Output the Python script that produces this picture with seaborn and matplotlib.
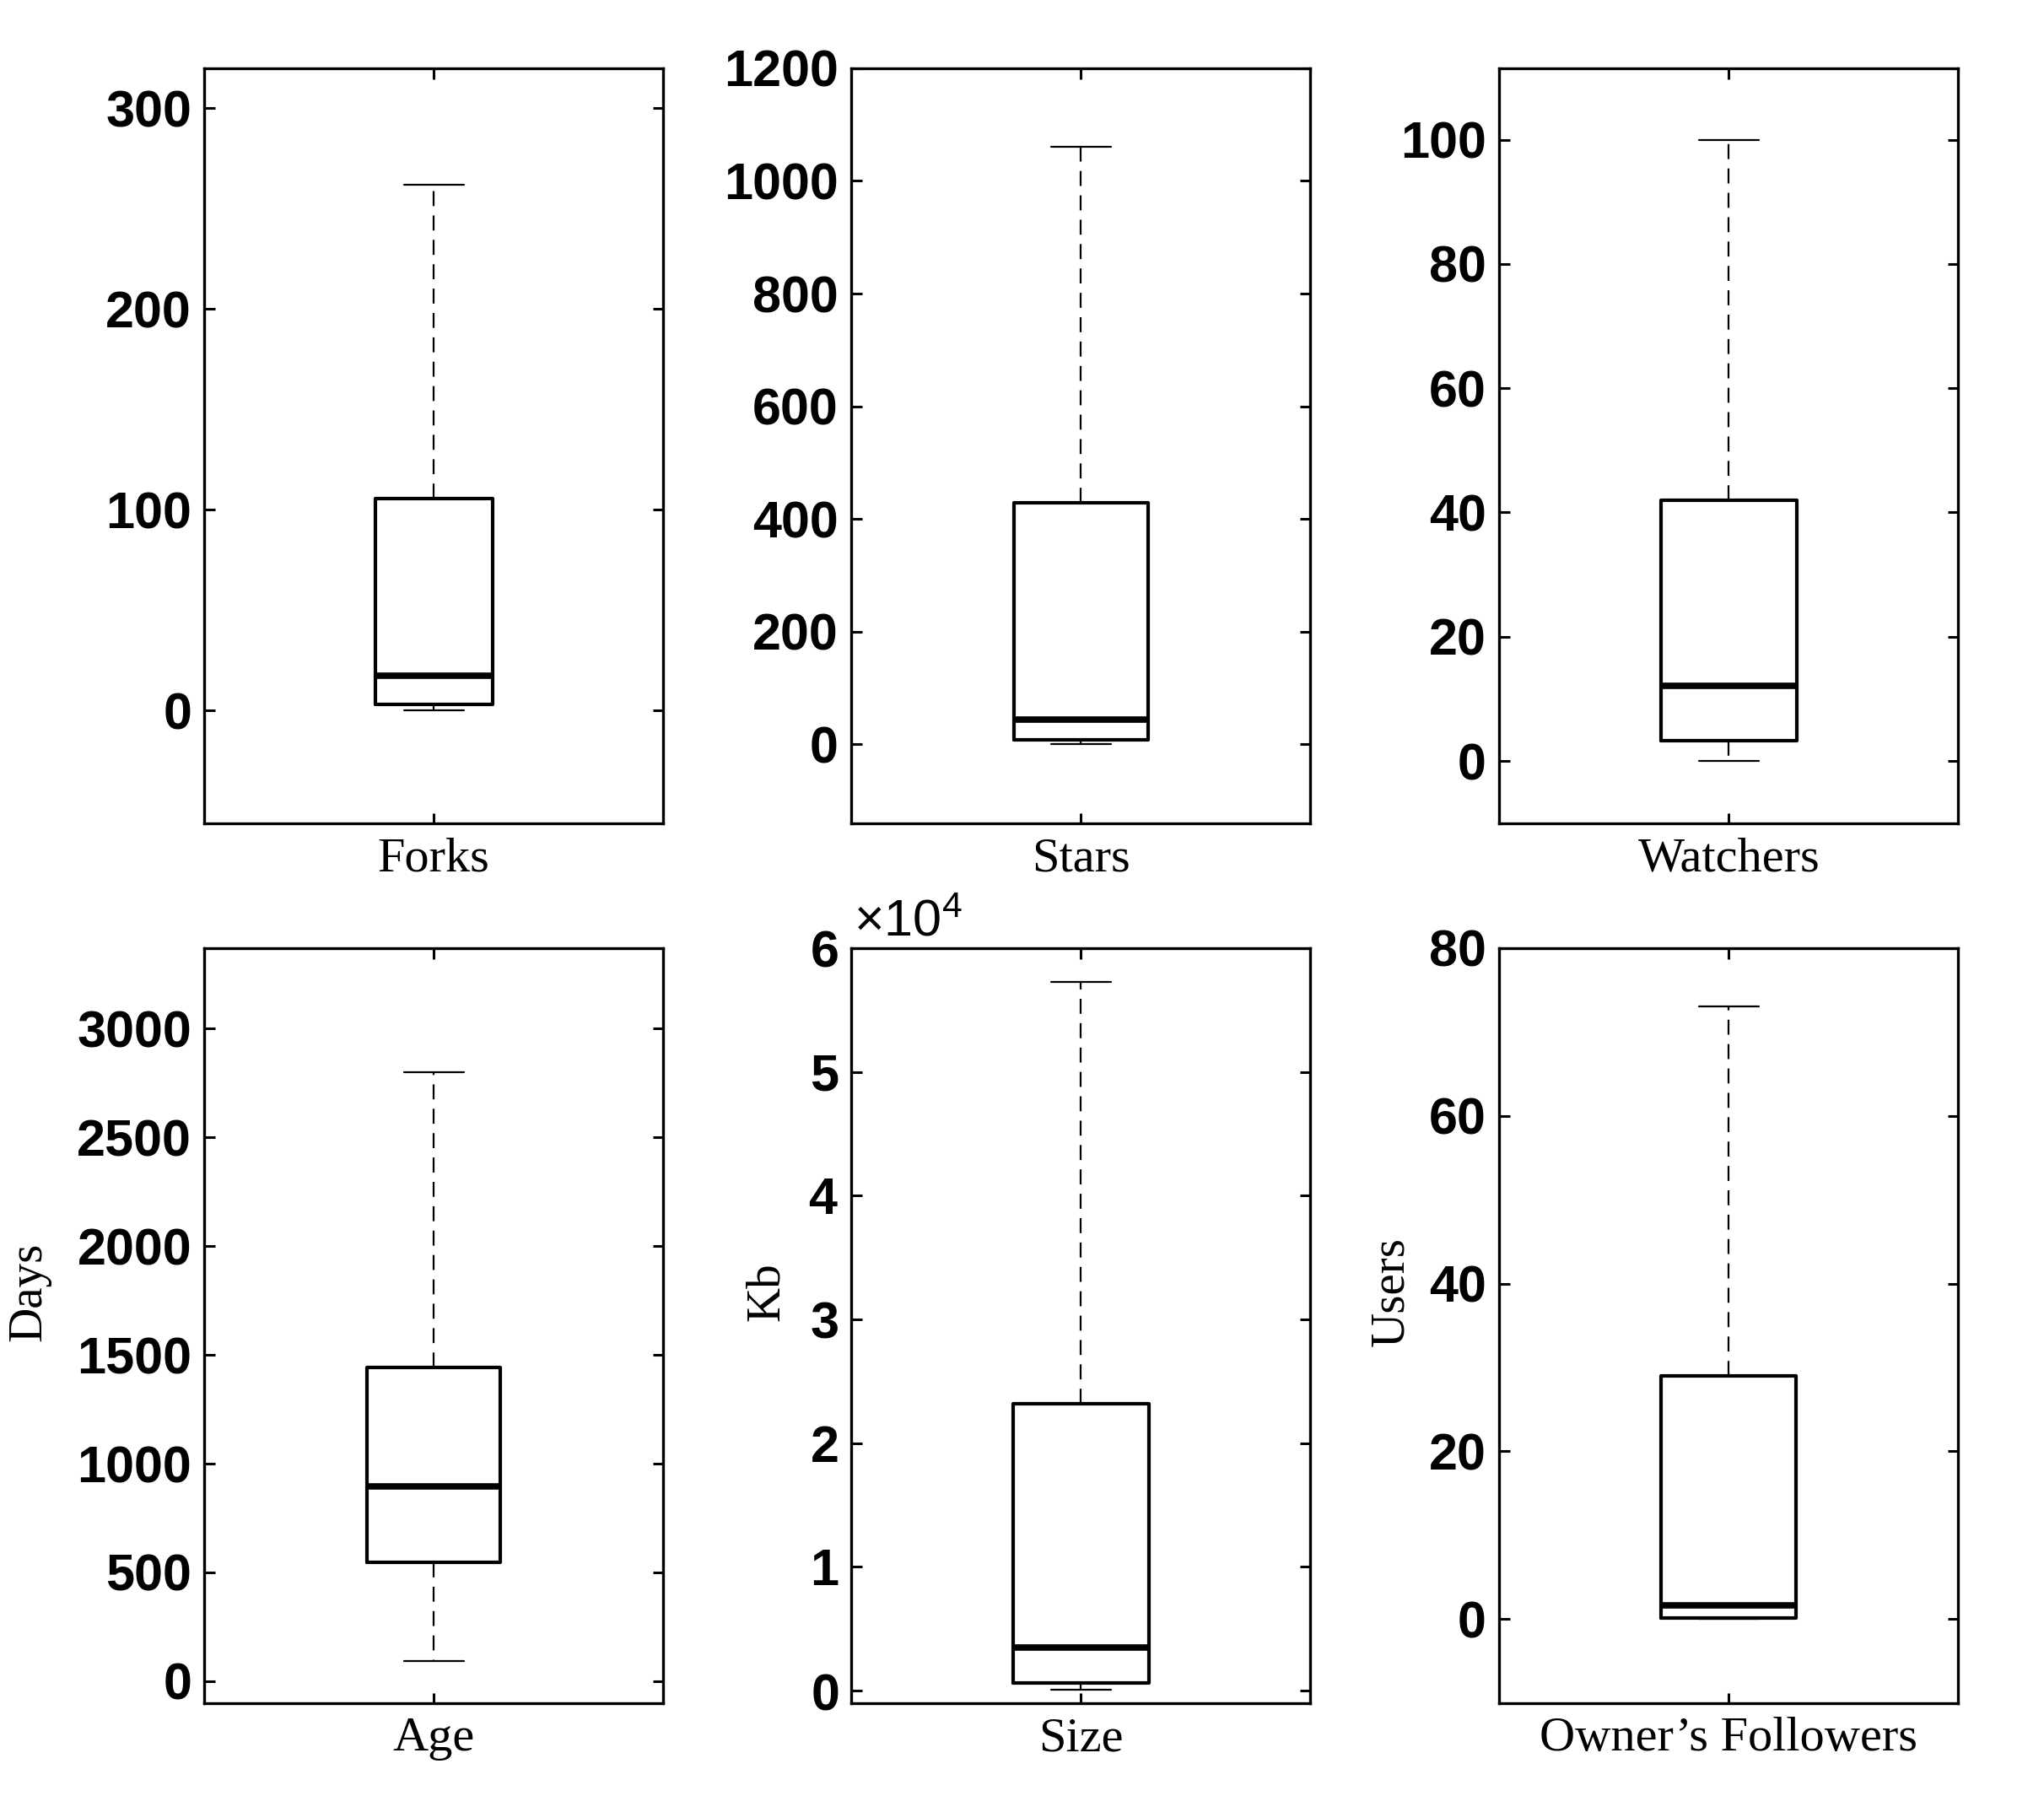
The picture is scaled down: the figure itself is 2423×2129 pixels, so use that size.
import numpy as np
import pandas as pd
import matplotlib.pyplot as plt
import seaborn as sns


# five-number summaries: min, q1, median, q3, max
metrics = ["Forks", "Stars", "Watchers", "Age", "Size", "Owner\u2019s Followers"]
forks = [0, 3, 17.5, 105.6, 262]
stars = [1, 8, 44, 428, 1060]
watchers = [0, 3.3, 12.1, 41.9, 100]
age = [92, 548, 897, 1443, 2800]
size_kb = [100, 640, 3470, 23160, 57300]
followers = [0, 0.1, 1.6, 29, 73]

y_units = ["", "", "", "Days", "Kb", "Users"]
y_limits = [(-56, 320), (-140, 1200), (-10, 111.5),
            (-100, 3370), (-1000, 60000), (-10, 80)]
y_ticks = [[0, 100, 200, 300],
           [0, 200, 400, 600, 800, 1000, 1200],
           [0, 20, 40, 60, 80, 100],
           [0, 500, 1000, 1500, 2000, 2500, 3000],
           [0, 10000, 20000, 30000, 40000, 50000, 60000],
           [0, 20, 40, 60, 80]]

summaries = [forks, stars, watchers, age, size_kb, followers]

sns.set_style("ticks")
plt.rcParams["font.family"] = ["Liberation Sans", "DejaVu Sans"]
plt.rcParams["mathtext.default"] = "regular"

fig = plt.figure(figsize=(24.23, 21.29), dpi=100)

lefts = [0.100, 0.4165, 0.7335]
bottoms = [0.5417, 0.0518]
w, h = 0.2245, 0.4203
# horizontal spot of the y label (axes fraction), per panel
label_x = [-0.3, -0.3, -0.3, -0.335, -0.137, -0.187]
box_widths = [0.256, 0.292, 0.296, 0.29, 0.296, 0.294]

for i, (name, vals) in enumerate(zip(metrics, summaries)):
    ax = fig.add_axes([lefts[i % 3], bottoms[i // 3], w, h])
    df = pd.DataFrame({"metric": [name] * len(vals), "value": vals})
    # whis=(0, 100): whiskers run to the extremes, quartiles come out exact
    sns.boxplot(data=df, x="metric", y="value", ax=ax, whis=(0, 100),
                width=box_widths[i], fill=False, color="black",
                linecolor="black", showfliers=False,
                boxprops={"linewidth": 3.0},
                medianprops={"linewidth": 5.5, "color": "black"},
                whiskerprops={"linewidth": 1.6, "linestyle": (0, (8, 5))},
                capprops={"linewidth": 1.6},
                capwidths=0.13)
    ax.set_xlim(-0.5, 0.5)
    ax.set_ylim(*y_limits[i])
    ax.set_yticks(y_ticks[i])
    ax.set_xlabel("")
    ax.set_ylabel(y_units[i], fontfamily="Liberation Serif", fontsize=41,
                  color="black")
    ax.yaxis.set_label_coords(label_x[i], 0.545)
    for side in ["top", "right", "bottom", "left"]:
        ax.spines[side].set_visible(True)
        ax.spines[side].set_linewidth(2.4)
        ax.spines[side].set_color("black")
    ax.tick_params(axis="both", direction="in", length=9, width=2.2,
                   top=True, right=True, colors="black")
    ax.tick_params(axis="y", labelsize=44, pad=11)
    ax.tick_params(axis="x", labelsize=42, pad=12)
    if name == "Size":
        ax.ticklabel_format(style="sci", axis="y", scilimits=(4, 4),
                            useMathText=True)
        ax.yaxis.get_offset_text().set_visible(False)
        ax.text(0.005, 1.016, r"$\times10^{4}$", transform=ax.transAxes,
                ha="left", va="baseline", fontsize=44, color="black")
    for lab in ax.get_yticklabels():
        lab.set_fontweight("bold")
    ax.set_xticks([0])
    ax.set_xticklabels([name], fontfamily="Liberation Serif", fontsize=42,
                       color="black")

fig.savefig("out.png", dpi=100, facecolor="white")
